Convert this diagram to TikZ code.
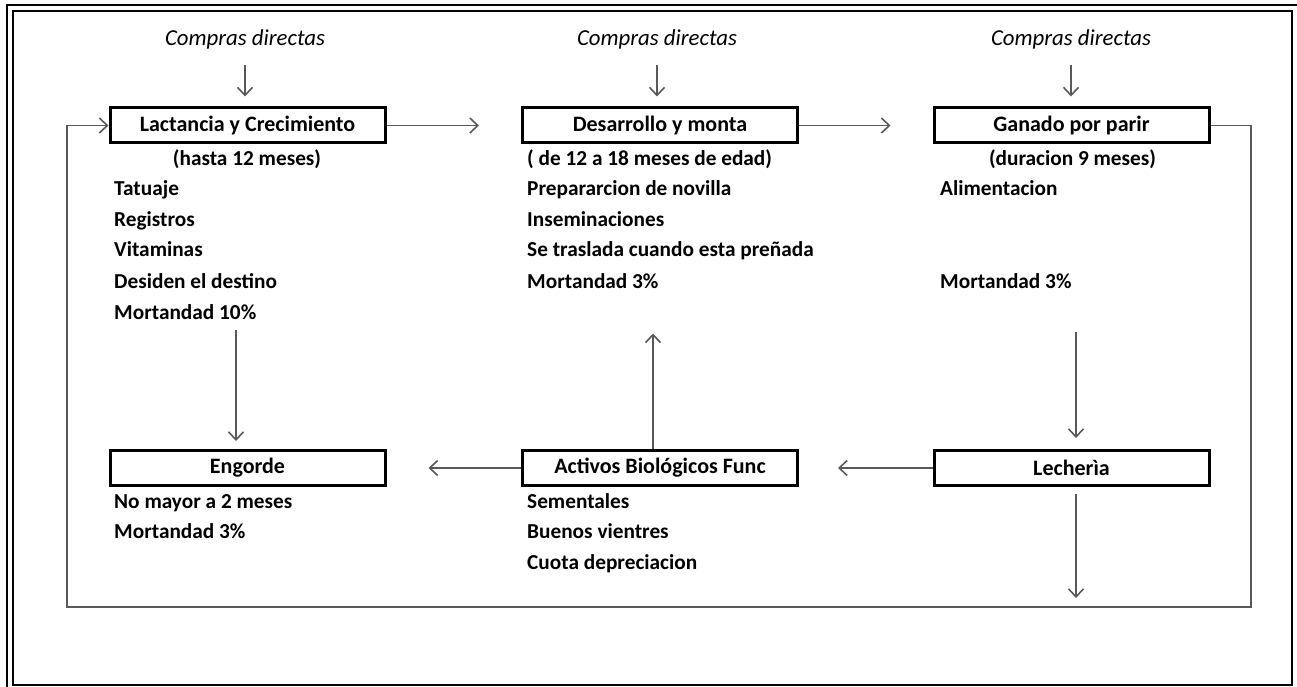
\documentclass[tikz,border=0pt]{standalone}
\usepackage{fontspec}
\setmainfont{Carlito}
\usetikzlibrary{arrows.meta}
\begin{document}
\begin{tikzpicture}[x=1pt,y=-1pt,
  box/.style={draw=black, line width=3pt, minimum width=275pt, minimum height=35pt, inner sep=0pt, font=\fontsize{22}{26}\selectfont\bfseries},
  txt/.style={anchor=base west, inner sep=0pt, font=\fontsize{21.3}{25}\selectfont\bfseries},
  ctxt/.style={anchor=base, inner sep=0pt, font=\fontsize{21.3}{25}\selectfont\bfseries},
  buy/.style={inner sep=3pt, font=\fontsize{22.8}{26}\selectfont\itshape},
  conn/.style={draw=black!65, line width=1.6pt},
  arr/.style={conn, -{Straight Barb[length=8pt,width=15pt,line width=1.6pt]}}
]
\useasboundingbox (0,0) rectangle (1297,687);
% frame
\draw[line width=2.2pt] (7,687) -- (7,5) -- (1297,5);
\draw[line width=2.2pt] (13,11) rectangle (1292,685);

% boxes
\node[box] (b1) at (247.5,125.5) {Lactancia y Crecimiento};
\node[box] (b2) at (660,125.5) {Desarrollo y monta};
\node[box] (b3) at (1071.5,125.5) {Ganado por parir};
\node[box] (b4) at (247.5,468) {Engorde};
\node[box] (b5) at (660,468) {Activos Biológicos Func};
\node[box] (b6) at (1071.5,468) {Lecherìa};

% compras directas
\node[buy] (c1) at (245,39) {Compras directas};
\node[buy] (c2) at (657,39) {Compras directas};
\node[buy] (c3) at (1071,39) {Compras directas};

% texts column 1
\node[ctxt] (t10) at (247,166) {(hasta 12 meses)};
\node[txt] (t11) at (114,196) {Tatuaje};
\node[txt] (t12) at (114,226) {Registros};
\node[txt] (t13) at (114,256) {Vitaminas};
\node[txt] (t14) at (114,288) {Desiden el destino};
\node[txt] (t15) at (114,319) {Mortandad 10\%};
% column 2
\node[txt] (t20) at (527,166) {( de 12 a 18 meses de edad)};
\node[txt] (t21) at (527,196) {Prepararcion de novilla};
\node[txt] (t22) at (527,226) {Inseminaciones};
\node[txt] (t23) at (527,256) {Se traslada cuando esta preñada};
\node[txt] (t24) at (527,288) {Mortandad 3\%};
% column 3
\node[ctxt] (t30) at (1072.5,166) {(duracion 9 meses)};
\node[txt] (t31) at (940,196) {Alimentacion};
\node[txt] (t32) at (940,288) {Mortandad 3\%};
% lower
\node[txt] (t41) at (114,508) {No mayor a 2 meses};
\node[txt] (t42) at (114,538) {Mortandad 3\%};
\node[txt] (t51) at (527,508) {Sementales};
\node[txt] (t52) at (527,538) {Buenos vientres};
\node[txt] (t53) at (527,569) {Cuota depreciacion};

% loop coordinates
\coordinate (lbr) at (1251,607);
\coordinate (lbl) at (67,607);

% arrows from compras
\draw[arr, shorten <=13pt, shorten >=10pt] (c1.south) -- (c1.south |- b1.north);
\draw[arr, shorten <=13pt, shorten >=10pt] (c2.south) -- (c2.south |- b2.north);
\draw[arr, shorten <=13pt, shorten >=10pt] (c3.south) -- (c3.south |- b3.north);

% horizontal top arrows
\draw[arr, shorten >=42pt] (b1.east) -- (b2.west);
\draw[arr, shorten >=42pt] (b2.east) -- (b3.west);

% vertical arrows
\draw[arr, shorten <=185pt, shorten >=8pt] ([xshift=-11.5pt]b1.south) -- ([xshift=-11.5pt]b4.north);
\draw[arr, shorten <=187pt, shorten >=11pt] ([xshift=4.5pt]b3.south) -- ([xshift=4.5pt]b6.north);
\draw[arr, shorten >=189pt] ([xshift=-7pt]b5.north) -- ([xshift=-7pt]b2.south);

% bottom horizontal arrows
\draw[arr, shorten >=42pt] (b5.west) -- (b4.east);
\draw[arr, shorten >=39pt] (b6.west) -- (b5.east);

% lecheria down
\draw[arr, shorten <=7pt, shorten >=9pt] ([xshift=4.5pt]b6.south) -- ([xshift=4.5pt]b6.south |- lbl);

% loop
\draw[arr] (b3.east) -- (b3.east -| lbr) -- (lbr) -- (lbl) -- (lbl |- b1.west) -- (b1.west);
\end{tikzpicture}
\end{document}
